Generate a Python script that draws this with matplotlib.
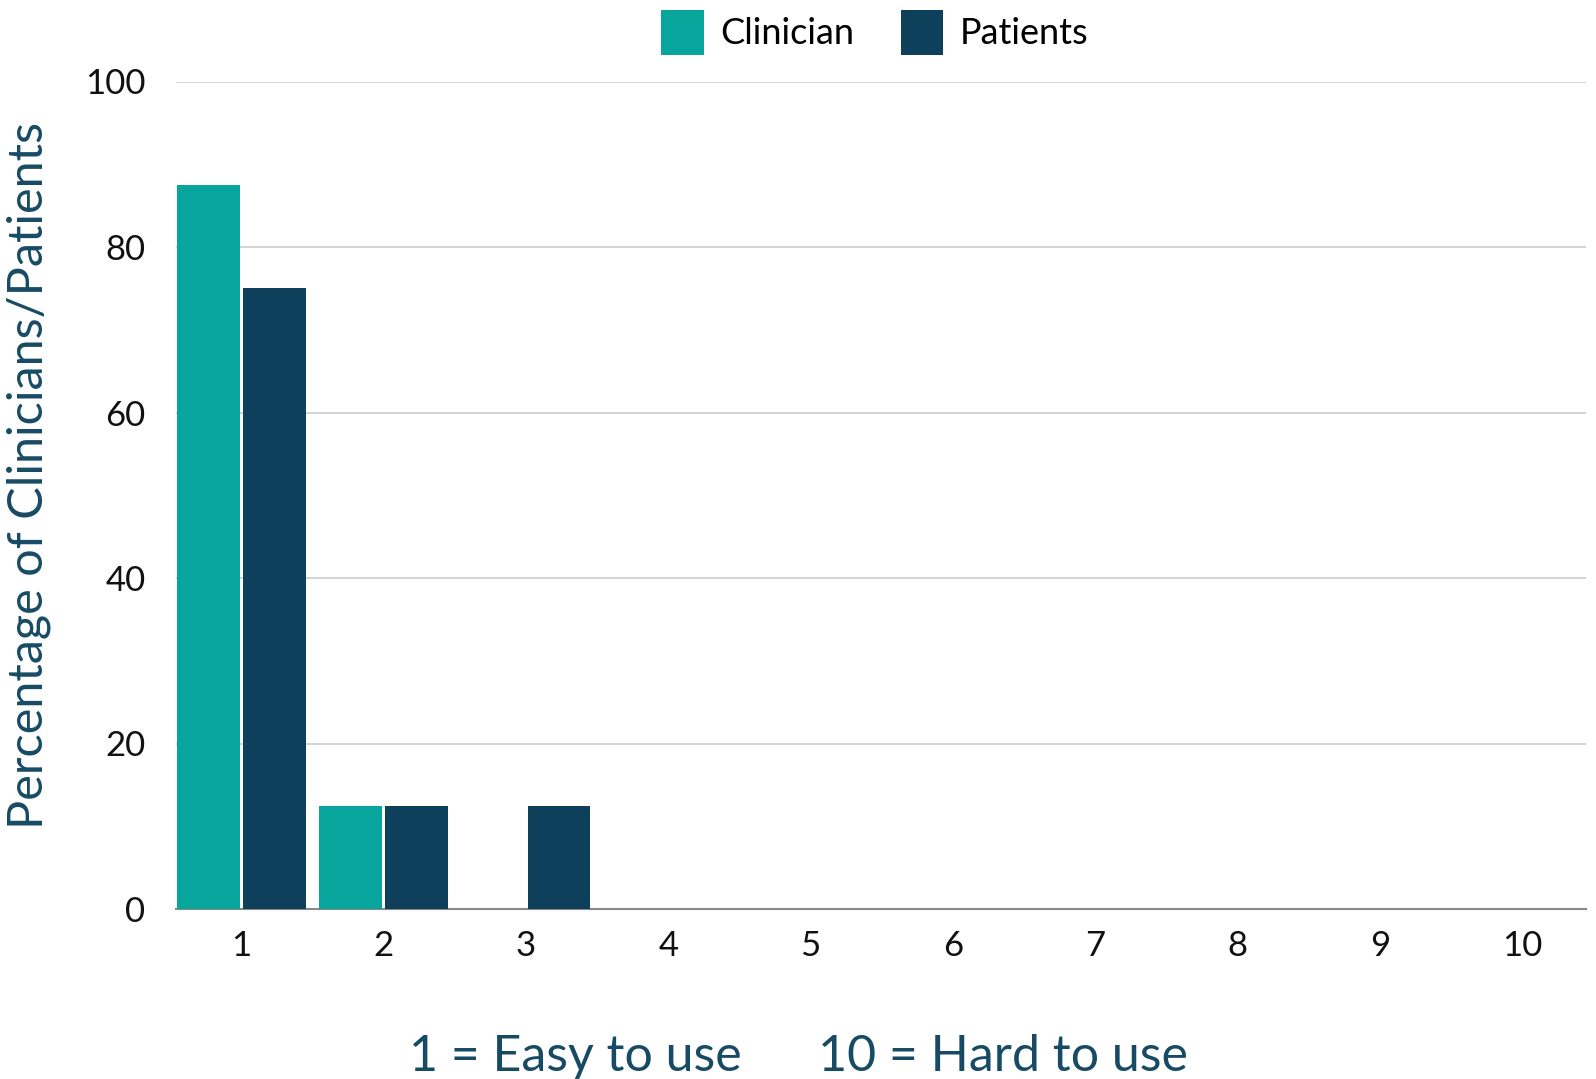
import matplotlib.pyplot as plt
import numpy as np

# Data
scores = [1, 2, 3, 4, 5, 6, 7, 8, 9, 10]
clinician = [87.5, 12.5, 0, 0, 0, 0, 0, 0, 0, 0]
patients = [75, 12.5, 12.5, 0, 0, 0, 0, 0, 0, 0]
y_ticks = [0, 20, 40, 60, 80, 100]

teal = '#08a59c'
navy = '#0f405b'
label_col = '#174a64'

plt.rcParams['font.family'] = ['Lato', 'DejaVu Sans']

fig = plt.figure(figsize=(15.96, 10.79), dpi=100)
ax = fig.add_axes([176 / 1596, 1 - 909 / 1079, 1410 / 1596, 827.5 / 1079])

x = np.array(scores)
w = 0.44
ax.bar(x - 0.232, clinician, width=w, color=teal, label='Clinician', zorder=3)
ax.bar(x + 0.232, patients, width=w, color=navy, label='Patients', zorder=3)

ax.set_xlim(0.54, 10.45)
ax.set_ylim(0, 100)
ax.set_xticks(scores)
ax.set_yticks(y_ticks)
ax.tick_params(axis='both', length=0, labelsize=25, colors='#111111')
ax.tick_params(axis='x', pad=15)
ax.tick_params(axis='y', pad=22)

ax.grid(axis='y', color='#cccccc', linewidth=1.2, zorder=0)
for s in ['top', 'right', 'left']:
    ax.spines[s].set_visible(False)
ax.spines['bottom'].set_color('#888888')
ax.spines['bottom'].set_linewidth(1.5)

ax.set_ylabel('Percentage of Clinicians/Patients', fontsize=35, color=label_col)
ax.yaxis.set_label_coords(-0.089, 0.524)

fig.text(0.5, 0.02, '1 = Easy to use      10 = Hard to use', ha='center', va='center',
         fontsize=36, color=label_col)

leg = fig.legend(loc='center', bbox_to_anchor=(0.548, 0.97), ncol=2, frameon=False,
                 fontsize=26, handlelength=1.17, handleheight=1.55, handletextpad=0.45,
                 columnspacing=1.3)

fig.savefig('out.png', dpi=100)
